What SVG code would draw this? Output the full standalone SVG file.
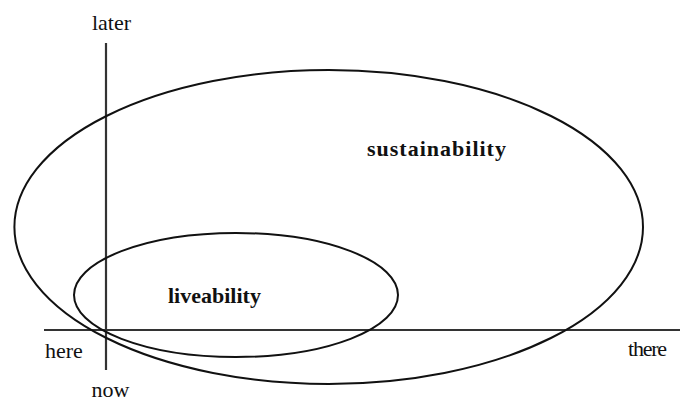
<svg xmlns="http://www.w3.org/2000/svg" width="684" height="401" viewBox="0 0 684 401">
<style>
.shape{fill:none;stroke:#111;stroke-width:2}
.axis{stroke:#333;stroke-width:2.2}
.lbl{font-family:"Liberation Serif","Times New Roman",serif;font-size:22px;fill:#111}
.bold{font-weight:bold}
</style>
<rect width="684" height="401" fill="#fff"/>
<g id="connectors">
<line class="axis" x1="106" y1="43" x2="106" y2="370"/>
<line class="axis" x1="44" y1="330" x2="680" y2="330"/>
</g>
<g id="sustainability">
<ellipse class="shape" cx="328.7" cy="227" rx="314.3" ry="157"/>
<text class="lbl bold" x="367" y="156" style="letter-spacing:1px">sustainability</text>
</g>
<g id="liveability">
<ellipse class="shape" cx="236" cy="295" rx="162" ry="62"/>
<text class="lbl bold" x="168" y="303">liveability</text>
</g>
<g id="later"><text class="lbl" x="111.5" y="30" text-anchor="middle">later</text></g>
<g id="now"><text class="lbl" x="110.5" y="397" text-anchor="middle">now</text></g>
<g id="here"><text class="lbl" x="45" y="358">here</text></g>
<g id="there"><text class="lbl" x="628" y="356" textLength="39">there</text></g>
</svg>
